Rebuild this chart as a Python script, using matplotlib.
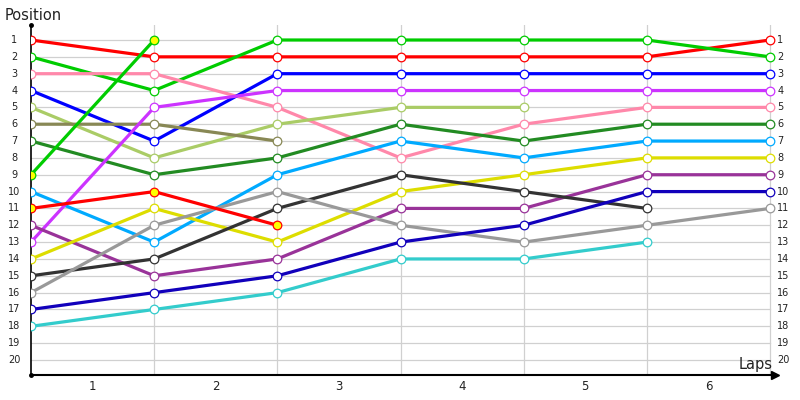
import numpy as np
import matplotlib
matplotlib.use("Agg")
import matplotlib.pyplot as plt

laps = ["1", "2", "3", "4", "5", "6"]
positions = list(range(1, 21))
N = None

series_red = [1, 2, 2, 2, 2, 2, 1]
series_green = [2, 4, 1, 1, 1, 1, 2]
series_pink = [3, 3, 5, 8, 6, 5, 5]
series_blue = [4, 7, 3, 3, 3, 3, 3]
series_lightgreen = [5, 8, 6, 5, 5, N, N]
series_olive = [6, 6, 7, N, N, N, N]
series_darkgreen = [7, 9, 8, 6, 7, 6, 6]
series_green2 = [9, 1, N, N, N, N, N]
series_lightblue = [10, 13, 9, 7, 8, 7, 7]
series_red2 = [11, 10, 12, N, N, N, N]
series_purple = [12, 15, 14, 11, 11, 9, 9]
series_magenta = [13, 5, 4, 4, 4, 4, 4]
series_yellow = [14, 11, 13, 10, 9, 8, 8]
series_black = [15, 14, 11, 9, 10, 11, N]
series_gray = [16, 12, 10, 12, 13, 12, 11]
series_navy = [17, 16, 15, 13, 12, 10, 10]
series_cyan = [18, 17, 16, 14, 14, 13, N]

series = [
    (series_red, "#ff0000", "white"),
    (series_green, "#00cc00", "white"),
    (series_pink, "#ff88aa", "white"),
    (series_blue, "#0000ff", "white"),
    (series_lightgreen, "#aacc66", "white"),
    (series_olive, "#888855", "white"),
    (series_darkgreen, "#228b22", "white"),
    (series_lightblue, "#00aaff", "white"),
    (series_magenta, "#cc33ff", "white"),
    (series_purple, "#993399", "white"),
    (series_yellow, "#dddd00", "white"),
    (series_black, "#333333", "white"),
    (series_gray, "#999999", "white"),
    (series_navy, "#1100bb", "white"),
    (series_cyan, "#33cccc", "white"),
    (series_red2, "#ff0000", "#ffff00"),
    (series_green2, "#00cc00", "#ffff00"),
]

fig = plt.figure(figsize=(8, 4), dpi=100)
ax = fig.add_axes([31/800, 25/400, 744/800, 350/400])
x0, x6 = 31, 770
ux = (x6 - x0) / 6
uy = (360 - 40) / 19
ax.set_xlim(0, (775 - x0) / ux)
ax.set_ylim(20 + 15/uy, 1 - 15/uy)

for p in positions:
    ax.plot([0, 6], [p, p], color="#d0d0d0", lw=0.9, zorder=1)
for i in range(1, 7):
    ax.axvline(i, color="#d0d0d0", lw=0.9, zorder=1)

for vals, col, fc in series:
    xs = [i for i, v in enumerate(vals) if v is not None]
    ys = [v for v in vals if v is not None]
    ax.plot(xs, ys, color=col, lw=2.3, zorder=3, solid_capstyle="butt")
    ax.plot(xs, ys, ls="none", marker="o", ms=6.2, mfc=fc, mec=col, mew=0.9, zorder=4)

for s in ["top", "right"]:
    ax.spines[s].set_visible(False)
ax.spines["left"].set_linewidth(1.2)
ax.spines["bottom"].set_linewidth(1.5)
ax.set_xticks([])
ax.set_yticks([])
ax.plot([ax.get_xlim()[1]], [ax.get_ylim()[0]], marker=">", ms=6, color="black", clip_on=False, zorder=5)
ax.plot([0], [ax.get_ylim()[0]], marker="o", ms=2.5, color="black", clip_on=False, zorder=5)
ax.plot([0], [ax.get_ylim()[1]], marker="o", ms=2.5, color="black", clip_on=False, zorder=5)

for p in positions:
    ax.text(-0.135, p, str(p), ha="center", va="center", fontsize=7, color="#222222")
    ax.text(6.06, p, str(p), ha="left", va="center", fontsize=7, color="#222222")
for i, lab in enumerate(laps):
    ax.text(i + 0.5, 21.6, lab, ha="center", va="center", fontsize=8.5, color="#222222", clip_on=False)

fig.text(5/800, 1 - 15/400, "Position", fontsize=10.5, ha="left", va="center", color="#222222")
fig.text(773/800, 1 - 365/400, "Laps", fontsize=10.5, ha="right", va="center", color="#222222")

fig.savefig("out.png", dpi=100)
